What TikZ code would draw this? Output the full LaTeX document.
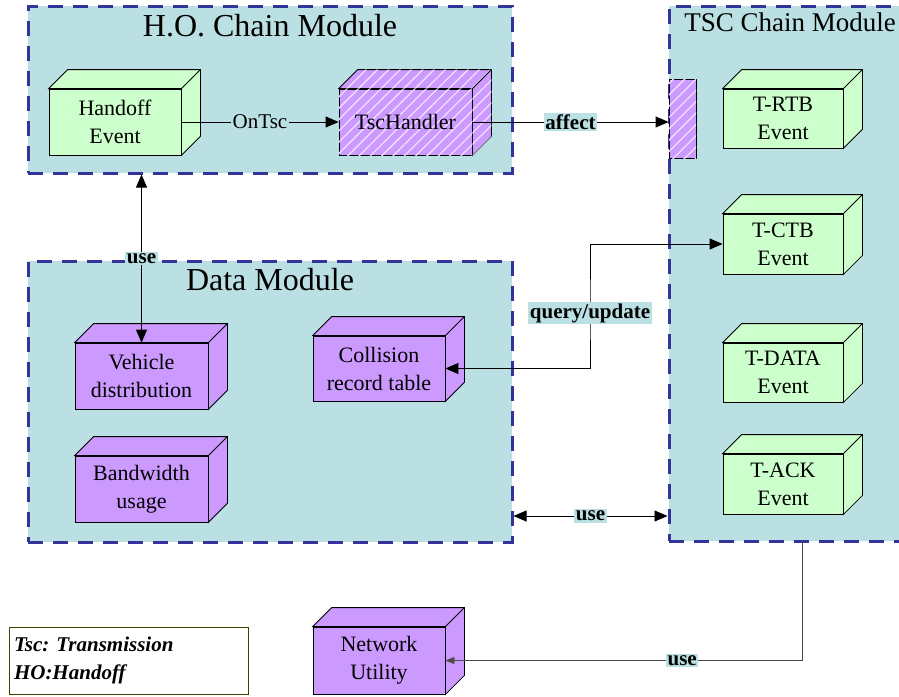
\documentclass[tikz,border=0pt]{standalone}
\usepackage{fontspec}
\setmainfont{Liberation Serif}
\usepackage{tikz}
\usetikzlibrary{calc,arrows.meta,patterns.meta}

\definecolor{modfill}{RGB}{186,224,227}
\definecolor{modline}{RGB}{51,51,153}
\definecolor{evtgreen}{RGB}{204,255,204}
\definecolor{datpurple}{RGB}{204,153,255}
\definecolor{legline}{RGB}{64,64,0}

\newcommand{\boxfont}{\fontsize{22}{28}\selectfont}
\newcommand{\lblfont}{\fontsize{21}{24}\selectfont\bfseries}

% top and side face of a box node
\newcommand{\cubesides}[2]{%
  \filldraw[line width=0.8pt,#2] (#1.north west) -- ++(19,-19) -- ($(#1.north east)+(19,-19)$)
    -- ($(#1.south east)+(19,-19)$) -- (#1.south east) -- (#1.north east) -- cycle;
  \draw[line width=0.8pt] (#1.north east) -- ++(19,-19);
}

\tikzset{
  module/.style={draw=modline, fill=modfill, line width=3pt, dash pattern=on 15pt off 10pt, inner sep=0pt},
  modtitle/.style={anchor=base, inner sep=0pt},
  cubebox/.style={draw, line width=0.8pt, align=center, font=\boxfont, inner sep=0pt,
    minimum width=133pt, minimum height=66pt},
  evtbox/.style={cubebox, fill=evtgreen},
  datbox/.style={cubebox, fill=datpurple},
  hatched/.style={fill=datpurple, postaction={pattern={Lines[angle=45,distance=8pt,line width=1.3pt]},
    pattern color=white!70!datpurple}},
  lbl/.style={fill=modfill, inner sep=1.5pt, font=\lblfont},
  arr/.style={-{Triangle[length=13pt,width=11pt]}, line width=0.8pt},
  darr/.style={{Triangle[length=13pt,width=11pt]}-{Triangle[length=13pt,width=11pt]}, line width=0.8pt},
}

\begin{document}
\frenchspacing
\begin{tikzpicture}[x=1pt,y=-1pt]
    \useasboundingbox (0,0) rectangle (899,696);

    % modules
    \node[module, minimum width=484pt, minimum height=167pt] (homod) at (270,89.5) {};
    \node[module, minimum width=484pt, minimum height=281pt] (datamod) at (270,401.5) {};
    \node[module, minimum width=256pt, minimum height=535pt] (tscmod) at (797,273.5) {};
    \node[modtitle, font=\fontsize{32}{36}\selectfont] (hotitle) at (270,36) {H.O. Chain Module};
    \node[modtitle, font=\fontsize{32}{36}\selectfont] (datatitle) at (270,290) {Data Module};
    \node[modtitle, font=\fontsize{27}{30}\selectfont] (tsctitle) at (790,31) {TSC Chain Module};

    % H.O. chain boxes
    \node[evtbox, minimum width=132pt] (handoff) at (115,122) {Handoff\\Event};
    \cubesides{handoff}{fill=evtgreen}
    \node[cubebox, hatched] (tsch) at (405.5,122) {TscHandler};
    \cubesides{tsch}{hatched}

    % TSC chain boxes
    \node[draw, line width=0.8pt, hatched, minimum width=27pt, minimum height=79pt, inner sep=0pt] (port) at (682.5,118.5) {};
    \node[evtbox, minimum width=120pt, minimum height=59pt] (trtb) at (783,118.5) {T-RTB\\Event};
    \cubesides{trtb}{fill=evtgreen}
    \node[evtbox, minimum width=120pt, minimum height=60pt] (tctb) at (783,244) {T-CTB\\Event};
    \cubesides{tctb}{fill=evtgreen}
    \node[evtbox, minimum width=120pt, minimum height=59pt] (tdata) at (783,372.5) {T-DATA\\Event};
    \cubesides{tdata}{fill=evtgreen}
    \node[evtbox, minimum width=120pt, minimum height=60pt] (tack) at (783,484) {T-ACK\\Event};
    \cubesides{tack}{fill=evtgreen}

    % data boxes
    \node[datbox] (vehicle) at (141.5,376) {Vehicle\\distribution};
    \cubesides{vehicle}{fill=datpurple}
    \node[datbox] (bandw) at (141.5,489) {Bandwidth\\usage};
    \cubesides{bandw}{fill=datpurple}
    \node[datbox, minimum width=132pt, minimum height=65pt] (coll) at (379,368.5) {Collision\\record table};
    \cubesides{coll}{fill=datpurple}
    \node[datbox, minimum width=132pt, minimum height=67pt] (netu) at (379,660.5) {Network\\Utility};
    \cubesides{netu}{fill=datpurple}

    % legend
    \node[draw=legline, line width=1pt, fill=white, minimum width=239pt, minimum height=67pt,
      inner sep=5pt, align=left, text width=229pt, font=\fontsize{21}{28}\selectfont\bfseries\itshape]
      (legend) at (128.5,660.5) {Tsc: Transmission\\HO:Handoff};

    % connectors
    \draw[arr] (handoff.east) -- node[lbl, font=\fontsize{21}{24}\selectfont] {OnTsc} (tsch.west);
    \draw[arr] (tsch.east) -- node[lbl] {affect} (tsch.east -| port.west);
    \draw[darr] (vehicle.north) -- node[lbl] {use} (vehicle.north |- homod.south);
    \coordinate (qbend) at (590,313);
    \draw[darr] (coll.east) -| (qbend) |- (tctb.west);
    \node[lbl] (qlbl) at (qbend) {query/update};
    \coordinate (usey) at (590,516);
    \draw[darr] (usey -| datamod.east) -- node[lbl] {use} (usey -| tscmod.west);
    \coordinate (tdrop) at (802,541);
    \draw[-{Triangle[length=9pt,width=7pt]}, line width=0.8pt, black!70] (tdrop) |- node[pos=0.668, lbl, text=black] {use} (netu.east);
\end{tikzpicture}
\end{document}
